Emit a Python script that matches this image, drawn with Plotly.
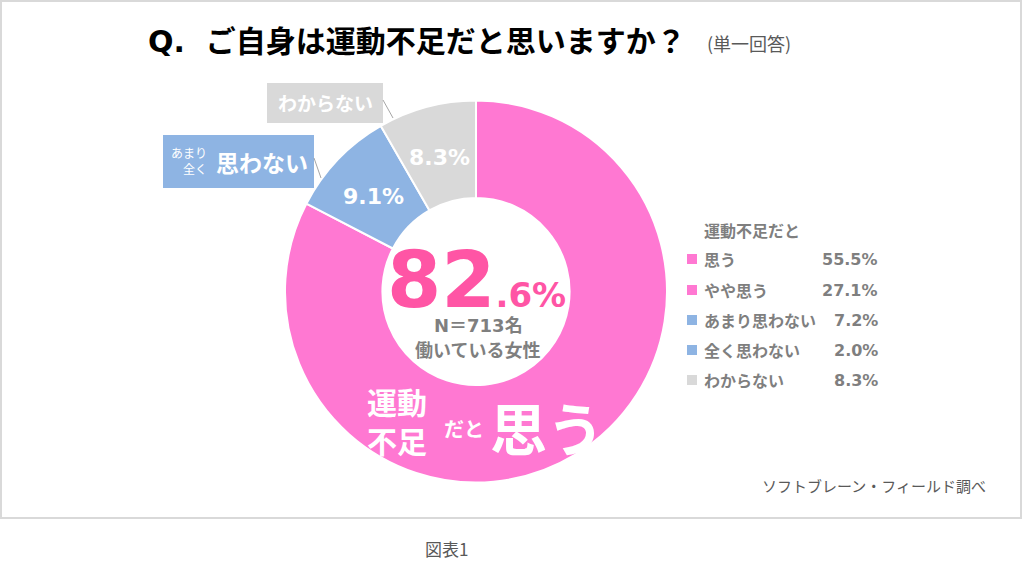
import math
import plotly.graph_objects as go

# Data
group_labels = ["思う", "思わない", "わからない"]
group_values = [82.6, 9.1, 8.3]

legend_title = "運動不足だと"
legend_labels = ["思う", "やや思う", "あまり思わない", "全く思わない", "わからない"]
legend_values = [55.5, 27.1, 7.2, 2.0, 8.3]

sample_n = 713
sample_desc = "働いている女性"
question = "Q.\u00a0\u00a0ご自身は運動不足だと思いますか？"
answer_type = "(単一回答)"
source_text = "ソフトブレーン・フィールド調べ"
figure_caption = "図表1"

# Styles
W, H = 1024, 576
PINK = "#ff78d2"
PINK_DARK = "#ff55a5"
BLUE = "#8eb4e3"
GRAY = "#d9d9d9"
TEXT_GRAY = "#7f7f7f"
JP = "Noto Sans CJK JP"
NUM = "DejaVu Sans, Noto Sans CJK JP"

group_colors = [PINK, BLUE, GRAY]
legend_colors = [PINK, PINK, BLUE, BLUE, GRAY]

# Donut geometry (pixels)
CX, CY = 476, 291.5
R_OUT = 191
HOLE = 0.49


def px(x):
    return x / W


def py(y):
    return 1 - y / H


fig = go.Figure()

fig.add_trace(go.Pie(
    labels = group_labels,
    values = group_values,
    textinfo = "none",
    marker = dict(colors = group_colors, line = dict(color = "white", width = 2)),
    hole = HOLE,
    sort = False,
    direction = "clockwise",
    rotation = 0,
    showlegend = False,
    hoverinfo = "skip",
    domain = dict(x = [px(CX - R_OUT), px(CX + R_OUT)], y = [py(CY + R_OUT), py(CY - R_OUT)])
))

annotations = []
shapes = []


def note(text, x, y, size, color, family = JP, weight = 400, xanchor = "center", align = "center"):
    annotations.append(dict(
        text = text,
        x = px(x), y = py(y),
        xref = "paper", yref = "paper",
        xanchor = xanchor, yanchor = "middle",
        align = align,
        showarrow = False,
        font = dict(family = family, size = size, color = color, weight = weight)
    ))


# Slice labels at the middle of the ring (pink slice gets the big text instead)
total = sum(group_values)
r_mid = R_OUT * (1 + HOLE) / 2
cum = 0
for i, v in enumerate(group_values):
    mid = (cum + v / 2) / total * 2 * math.pi
    cum += v
    if i == 0:
        continue
    note(f"{v:.1f}%", CX + r_mid * math.sin(mid), CY - r_mid * math.cos(mid) + 3,
         22, "white", family = NUM, weight = 700)

# Outer frame
shapes.append(dict(
    type = "rect", xref = "paper", yref = "paper",
    x0 = px(1), x1 = px(1021), y0 = py(518), y1 = py(1),
    line = dict(color = GRAY, width = 2)
))

# Title
note(question, 146, 41, 30, "black", family = NUM, weight = 700, xanchor = "left")
note(answer_type, 705, 43, 18, "#595959", xanchor = "left")

# Center text
whole, dec = f"{group_values[0]:.1f}".split(".")
note(f"{whole}<span style='font-size:34px'>.{dec}%</span>", 476, 280, 78, PINK_DARK,
     family = "DejaVu Sans", weight = 700)
note(f"N＝{sample_n}名", 478, 325, 18, TEXT_GRAY, family = NUM, weight = 700)
note(sample_desc, 477, 349, 18, TEXT_GRAY, weight = 700)

# Overlay text on the pink ring
note("運動<br>不足", 397, 420, 30, "white", weight = 700)
note("だと", 464, 428, 20, "white", weight = 700)
note(group_labels[0], 547, 426, 57, "white", weight = 700)

# Callout boxes
shapes.append(dict(type = "rect", xref = "paper", yref = "paper",
                   x0 = px(267), x1 = px(383), y0 = py(123), y1 = py(83),
                   fillcolor = GRAY, line = dict(width = 0)))
note(group_labels[2], 325, 103, 19, "white", weight = 700)
shapes.append(dict(type = "line", xref = "paper", yref = "paper",
                   x0 = px(383), y0 = py(100), x1 = px(393), y1 = py(118),
                   line = dict(color = "#a6a6a6", width = 1)))

shapes.append(dict(type = "rect", xref = "paper", yref = "paper",
                   x0 = px(163), x1 = px(314), y0 = py(188), y1 = py(135),
                   fillcolor = BLUE, line = dict(width = 0)))
note("あまり<br>全く", 209, 160, 12, "white", xanchor = "right", align = "right")
note(group_labels[1], 214, 162, 23, "white", weight = 700, xanchor = "left")
shapes.append(dict(type = "line", xref = "paper", yref = "paper",
                   x0 = px(314), y0 = py(158), x1 = px(321), y1 = py(178),
                   line = dict(color = "#a6a6a6", width = 1)))

# Legend
note(legend_title, 702, 230, 16, TEXT_GRAY, weight = 700, xanchor = "left")
row_y = [259, 290, 320, 350, 380]
for label, value, color, y in zip(legend_labels, legend_values, legend_colors, row_y):
    shapes.append(dict(type = "rect", xref = "paper", yref = "paper",
                       x0 = px(687), x1 = px(697), y0 = py(y + 5), y1 = py(y - 5),
                       fillcolor = color, line = dict(width = 0)))
    note(label, 702, y, 16, TEXT_GRAY, weight = 700, xanchor = "left")
    note(f"{value:.1f}%", 880, y, 16, TEXT_GRAY, family = NUM, weight = 700, xanchor = "right")

# Source and caption
note(source_text, 988, 485, 15, "#595959", xanchor = "right")
note(figure_caption, 446, 548, 17, "#595959")

fig.update_layout(
    width = W,
    height = H,
    margin = dict(l = 0, r = 0, t = 0, b = 0),
    paper_bgcolor = "white",
    plot_bgcolor = "white",
    annotations = annotations,
    shapes = shapes
)

fig.write_html(
    "out.html",
    config = {"displayModeBar": False},
    post_script = "document.body.style.margin = '0'; document.body.style.overflow = 'hidden';"
)
